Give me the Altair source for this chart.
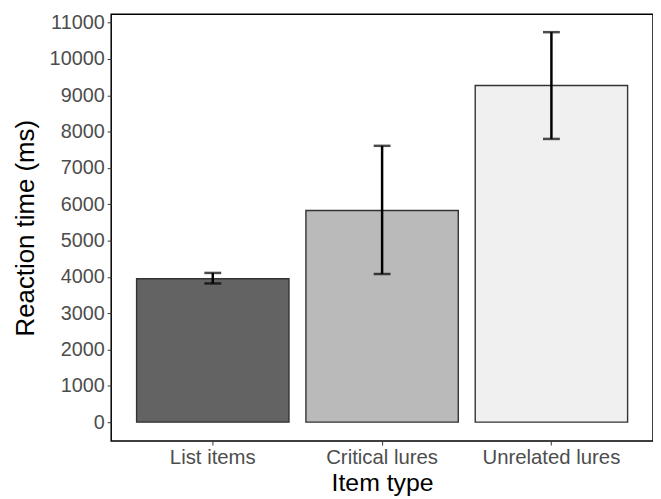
import altair as alt
import pandas as pd

categories = ["List items", "Critical lures", "Unrelated lures"]
means = [3950, 5830, 9270]
err_low = [3820, 4080, 7800]
err_high = [4110, 7610, 10740]
fills = ["#636363", "#BABABA", "#F0F0F0"]
y_ticks = list(range(0, 11001, 1000))

df = pd.DataFrame({
    "type": categories,
    "rt": means,
    "lo": err_low,
    "hi": err_high,
})

x_scale = alt.Scale(domain=categories, paddingInner=0.1, paddingOuter=0.15)
x_axis = alt.Axis(title="Item type", labelAngle=0, labelFontSize=20.5, labelPadding=3,
                  titleFontSize=25, titlePadding=2)
y_scale = alt.Scale(domain=[-520, 11230], nice=False, zero=False)
y_axis = alt.Axis(title="Reaction time (ms)", values=y_ticks, format="d",
                  labelFontSize=20, labelPadding=3, titleFontSize=26, titlePadding=11)


def xe():
    return alt.X("type:N", sort=categories, scale=x_scale, axis=x_axis)


def ye(field):
    return alt.Y(field, scale=y_scale, axis=y_axis)


bars = alt.Chart(df).mark_bar(stroke="#333333", strokeWidth=1.4).encode(
    x=xe(),
    y=ye("rt:Q"),
    fill=alt.Fill("type:N", scale=alt.Scale(domain=categories, range=fills), legend=None),
)

rules = alt.Chart(df).mark_rule(color="black", strokeWidth=2.5).encode(
    x=xe(),
    y=ye("lo:Q"),
    y2="hi:Q",
)
tick_hi = alt.Chart(df).mark_tick(color="black", thickness=2.5, size=17).encode(
    x=xe(),
    y=ye("hi:Q"),
)
tick_lo = alt.Chart(df).mark_tick(color="black", thickness=2.5, size=17).encode(
    x=xe(),
    y=ye("lo:Q"),
)

chart = alt.layer(bars, rules, tick_hi, tick_lo).properties(
    width=546,
    height=430,
    autosize=alt.AutoSizeParams(type="none"),
    padding={"left": 104, "top": 4.5, "right": 0, "bottom": 60},
    background="white",
).configure_view(
    stroke="black", strokeWidth=1.5
).configure_axis(
    labelColor="#4D4D4D", labelFont="Liberation Sans",
    titleFontWeight="normal", titleColor="black", titleFont="Liberation Sans",
    tickColor="#333333", tickSize=4, tickWidth=1,
    domain=False, grid=False,
)

chart.save("out.html", embed_options={"renderer": "svg", "actions": False})
